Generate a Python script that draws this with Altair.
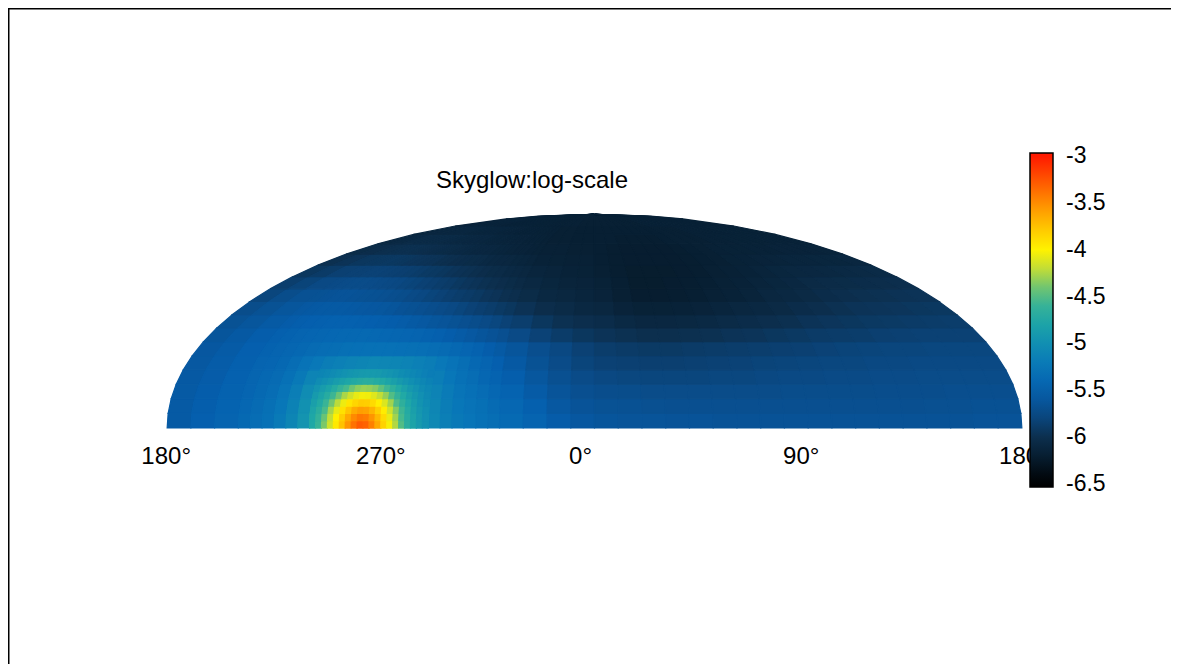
import altair as alt

# ---------------- data ----------------
# longitude edges of the sky cells (azimuth = lon mod 360; 0 deg at centre, 90 deg to the right)
lon_edges = [-180, -170, -160, -150,
             -145, -140, -135, -130, -125, -120, -115, -110, -105, -100, -95, -90, -85, -80, -75, -70,
             -65, -60, -55, -50, -45, -40,
             -30, -20, -10, 0, 10, 20, 30, 40, 50, 60, 70, 80, 90, 100, 110, 120, 130, 140, 150, 160, 170, 180]
# elevation edges (5 degree bands)
el_edges = [0, 5, 10, 15, 20, 25, 30, 35, 40, 45, 50, 55, 60, 65, 70, 75, 80, 85, 90]

# log10 skyglow, one row per elevation band (bottom to top), columns left to right
sky_rows = [
    [-5.56, -5.50, -5.45,
     -5.39, -5.35, -5.30, -5.21, -5.10, -4.95, -4.60, -4.20, -3.80, -3.45, -3.30, -3.50, -3.85, -4.30, -4.70, -4.95, -5.07, -5.16, -5.22, -5.26, -5.30, -5.34,
     -5.38, -5.45, -5.53, -5.59, -5.62, -5.63, -5.63, -5.64, -5.64, -5.65, -5.65, -5.65, -5.65, -5.65, -5.65, -5.65, -5.65, -5.65, -5.65, -5.65, -5.64, -5.64],
    [-5.56, -5.51, -5.46,
     -5.41, -5.37, -5.32, -5.24, -5.13, -4.98, -4.70, -4.35, -4.00, -3.75, -3.65, -3.75, -4.05, -4.45, -4.80, -4.98, -5.09, -5.18, -5.24, -5.28, -5.32, -5.37,
     -5.41, -5.49, -5.58, -5.64, -5.66, -5.67, -5.68, -5.69, -5.69, -5.69, -5.69, -5.69, -5.69, -5.69, -5.69, -5.69, -5.69, -5.69, -5.68, -5.68, -5.67, -5.67],
    [-5.56, -5.52, -5.47,
     -5.43, -5.39, -5.35, -5.27, -5.17, -5.03, -4.85, -4.60, -4.35, -4.15, -4.10, -4.20, -4.40, -4.65, -4.90, -5.03, -5.12, -5.20, -5.27, -5.31, -5.36, -5.41,
     -5.46, -5.55, -5.63, -5.69, -5.71, -5.72, -5.73, -5.73, -5.73, -5.73, -5.73, -5.73, -5.72, -5.72, -5.72, -5.72, -5.71, -5.71, -5.71, -5.70, -5.70, -5.70],
    [-5.57, -5.53, -5.48,
     -5.44, -5.40, -5.37, -5.30, -5.22, -5.11, -5.00, -4.90, -4.80, -4.75, -4.72, -4.75, -4.80, -4.90, -5.00, -5.10, -5.17, -5.24, -5.30, -5.35, -5.41, -5.46,
     -5.51, -5.60, -5.68, -5.74, -5.77, -5.78, -5.79, -5.79, -5.79, -5.78, -5.78, -5.77, -5.76, -5.76, -5.75, -5.75, -5.74, -5.74, -5.73, -5.73, -5.73, -5.73],
    [-5.58, -5.54, -5.49,
     -5.45, -5.43, -5.40, -5.35, -5.28, -5.23, -5.18, -5.15, -5.12, -5.10, -5.08, -5.09, -5.10, -5.12, -5.15, -5.18, -5.23, -5.28, -5.34, -5.40, -5.45, -5.50,
     -5.57, -5.66, -5.74, -5.80, -5.83, -5.84, -5.85, -5.85, -5.84, -5.83, -5.82, -5.81, -5.80, -5.79, -5.78, -5.78, -5.77, -5.77, -5.76, -5.76, -5.76, -5.76],
    [-5.59, -5.55, -5.50,
     -5.47, -5.45, -5.42, -5.40, -5.37, -5.35, -5.34, -5.32, -5.31, -5.30, -5.30, -5.30, -5.31, -5.32, -5.33, -5.35, -5.37, -5.40, -5.43, -5.47, -5.52, -5.56,
     -5.62, -5.70, -5.77, -5.83, -5.87, -5.89, -5.90, -5.90, -5.89, -5.88, -5.87, -5.86, -5.85, -5.84, -5.82, -5.81, -5.80, -5.79, -5.79, -5.78, -5.78, -5.78],
    [-5.62, -5.57, -5.52,
     -5.49, -5.47, -5.45, -5.43, -5.42, -5.41, -5.40, -5.40, -5.39, -5.40, -5.41, -5.42, -5.43, -5.45, -5.47, -5.49, -5.52, -5.55, -5.58, -5.62, -5.65, -5.69,
     -5.75, -5.82, -5.88, -5.93, -5.96, -5.98, -6.00, -6.00, -5.99, -5.98, -5.96, -5.95, -5.93, -5.91, -5.89, -5.88, -5.87, -5.85, -5.84, -5.83, -5.83, -5.83],
    [-5.66, -5.61, -5.56,
     -5.53, -5.51, -5.50, -5.49, -5.48, -5.48, -5.48, -5.49, -5.50, -5.51, -5.52, -5.54, -5.56, -5.58, -5.61, -5.63, -5.66, -5.69, -5.72, -5.75, -5.78, -5.82,
     -5.86, -5.93, -5.98, -6.01, -6.03, -6.07, -6.09, -6.09, -6.08, -6.07, -6.05, -6.03, -6.01, -5.99, -5.96, -5.94, -5.93, -5.91, -5.90, -5.89, -5.88, -5.87],
    [-5.72, -5.66, -5.61,
     -5.58, -5.57, -5.56, -5.56, -5.56, -5.57, -5.58, -5.59, -5.60, -5.62, -5.65, -5.67, -5.69, -5.71, -5.74, -5.76, -5.79, -5.82, -5.85, -5.87, -5.90, -5.93,
     -5.97, -6.02, -6.05, -6.08, -6.10, -6.14, -6.16, -6.16, -6.15, -6.14, -6.12, -6.10, -6.08, -6.06, -6.03, -6.01, -5.98, -5.96, -5.95, -5.94, -5.93, -5.92],
    [-5.79, -5.72, -5.67,
     -5.66, -5.65, -5.64, -5.64, -5.65, -5.66, -5.67, -5.68, -5.70, -5.72, -5.75, -5.77, -5.80, -5.82, -5.85, -5.87, -5.89, -5.91, -5.94, -5.96, -5.99, -6.01,
     -6.04, -6.08, -6.10, -6.12, -6.14, -6.18, -6.21, -6.21, -6.20, -6.19, -6.17, -6.15, -6.13, -6.10, -6.08, -6.06, -6.03, -6.01, -5.99, -5.98, -5.97, -5.96],
    [-5.86, -5.81, -5.76,
     -5.75, -5.74, -5.73, -5.73, -5.74, -5.75, -5.76, -5.77, -5.79, -5.81, -5.83, -5.85, -5.87, -5.89, -5.92, -5.94, -5.96, -5.98, -6.00, -6.02, -6.04, -6.06,
     -6.08, -6.11, -6.13, -6.14, -6.16, -6.19, -6.22, -6.22, -6.21, -6.20, -6.19, -6.17, -6.15, -6.13, -6.11, -6.09, -6.06, -6.05, -6.04, -6.03, -6.02, -6.01],
    [-5.93, -5.89, -5.84,
     -5.83, -5.83, -5.82, -5.82, -5.83, -5.84, -5.85, -5.86, -5.88, -5.90, -5.91, -5.93, -5.95, -5.97, -5.98, -6.00, -6.02, -6.04, -6.05, -6.07, -6.08, -6.10,
     -6.12, -6.13, -6.15, -6.16, -6.18, -6.20, -6.22, -6.22, -6.22, -6.21, -6.20, -6.18, -6.17, -6.15, -6.13, -6.11, -6.10, -6.09, -6.08, -6.07, -6.06, -6.05],
    [-5.99, -5.96, -5.93,
     -5.92, -5.92, -5.91, -5.92, -5.93, -5.94, -5.95, -5.96, -5.97, -5.99, -6.00, -6.02, -6.03, -6.04, -6.05, -6.07, -6.08, -6.09, -6.10, -6.11, -6.12, -6.13,
     -6.15, -6.16, -6.17, -6.17, -6.19, -6.20, -6.21, -6.21, -6.21, -6.21, -6.20, -6.19, -6.18, -6.16, -6.15, -6.14, -6.13, -6.12, -6.12, -6.11, -6.11, -6.10],
    [-6.04, -6.02, -6.00,
     -5.99, -5.99, -5.99, -6.00, -6.01, -6.02, -6.03, -6.04, -6.05, -6.06, -6.07, -6.08, -6.09, -6.09, -6.10, -6.11, -6.12, -6.13, -6.14, -6.14, -6.15, -6.16,
     -6.17, -6.17, -6.18, -6.18, -6.19, -6.20, -6.21, -6.21, -6.21, -6.21, -6.20, -6.19, -6.18, -6.17, -6.16, -6.16, -6.15, -6.15, -6.14, -6.14, -6.14, -6.13],
    [-6.08, -6.07, -6.05,
     -6.05, -6.05, -6.05, -6.05, -6.06, -6.07, -6.08, -6.08, -6.09, -6.09, -6.10, -6.11, -6.12, -6.12, -6.13, -6.13, -6.14, -6.14, -6.15, -6.15, -6.16, -6.17,
     -6.18, -6.18, -6.19, -6.19, -6.19, -6.19, -6.20, -6.20, -6.20, -6.20, -6.19, -6.18, -6.18, -6.18, -6.17, -6.17, -6.16, -6.16, -6.16, -6.15, -6.15, -6.15],
    [-6.11, -6.10, -6.10,
     -6.10, -6.10, -6.10, -6.10, -6.11, -6.11, -6.12, -6.12, -6.12, -6.12, -6.13, -6.13, -6.14, -6.14, -6.15, -6.15, -6.15, -6.15, -6.16, -6.16, -6.17, -6.17,
     -6.18, -6.18, -6.19, -6.19, -6.19, -6.19, -6.19, -6.19, -6.19, -6.19, -6.19, -6.18, -6.18, -6.18, -6.17, -6.17, -6.17, -6.17, -6.16, -6.16, -6.16, -6.16],
    [-6.14, -6.14, -6.13,
     -6.13, -6.13, -6.13, -6.13, -6.14, -6.14, -6.15, -6.15, -6.15, -6.15, -6.15, -6.15, -6.15, -6.15, -6.16, -6.16, -6.16, -6.16, -6.17, -6.17, -6.17, -6.17,
     -6.17, -6.17, -6.18, -6.18, -6.18, -6.18, -6.18, -6.18, -6.18, -6.18, -6.18, -6.17, -6.17, -6.17, -6.17, -6.17, -6.17, -6.17, -6.17, -6.17, -6.17, -6.17],
    [-6.15, -6.15, -6.15,
     -6.15, -6.15, -6.15, -6.15, -6.15, -6.15, -6.16, -6.16, -6.16, -6.16, -6.16, -6.16, -6.16, -6.16, -6.16, -6.16, -6.16, -6.16, -6.17, -6.17, -6.17, -6.17,
     -6.17, -6.17, -6.17, -6.17, -6.17, -6.17, -6.17, -6.17, -6.17, -6.17, -6.17, -6.17, -6.17, -6.17, -6.17, -6.17, -6.17, -6.17, -6.17, -6.17, -6.17, -6.17],
]

# finer cells around the bright city glow (azimuth 240..290, elevation 0..20)
spot_lon_edges = [-120.0, -117.5, -115.0, -112.5, -110.0, -107.5, -105.0, -102.5, -100.0, -97.5, -95.0,
                  -92.5, -90.0, -87.5, -85.0, -82.5, -80.0, -77.5, -75.0, -72.5, -70.0]
spot_el_edges = [0, 2.5, 5, 7.5, 10, 12.5, 15, 17.5, 20]
spot_rows = [
    [-4.75, -4.59, -4.38, -4.16, -3.95, -3.75, -3.55, -3.39, -3.29, -3.32, -3.45, -3.63, -3.83, -4.03, -4.25, -4.47, -4.67, -4.80, -4.90, -4.98],
    [-4.76, -4.62, -4.42, -4.20, -3.99, -3.81, -3.63, -3.49, -3.41, -3.43, -3.54, -3.70, -3.88, -4.07, -4.29, -4.50, -4.69, -4.81, -4.91, -4.99],
    [-4.79, -4.67, -4.49, -4.28, -4.08, -3.91, -3.76, -3.64, -3.58, -3.60, -3.68, -3.82, -3.97, -4.16, -4.36, -4.56, -4.72, -4.84, -4.93, -5.00],
    [-4.84, -4.73, -4.58, -4.40, -4.22, -4.06, -3.93, -3.85, -3.80, -3.81, -3.88, -3.98, -4.12, -4.29, -4.48, -4.65, -4.77, -4.87, -4.96, -5.03],
    [-4.89, -4.80, -4.70, -4.56, -4.41, -4.27, -4.16, -4.08, -4.04, -4.05, -4.11, -4.20, -4.32, -4.47, -4.62, -4.74, -4.84, -4.92, -4.99, -5.06],
    [-4.95, -4.87, -4.80, -4.71, -4.61, -4.50, -4.41, -4.34, -4.31, -4.32, -4.36, -4.44, -4.54, -4.65, -4.74, -4.83, -4.91, -4.97, -5.04, -5.08],
    [-5.03, -4.98, -4.93, -4.87, -4.82, -4.77, -4.73, -4.70, -4.68, -4.68, -4.71, -4.74, -4.79, -4.84, -4.90, -4.95, -5.00, -5.05, -5.09, -5.13],
    [-5.10, -5.07, -5.04, -5.00, -4.97, -4.94, -4.92, -4.90, -4.89, -4.89, -4.90, -4.93, -4.95, -4.98, -5.02, -5.05, -5.08, -5.11, -5.15, -5.18],
]

# colour bar (the bar runs a hair past -6.5 and -3, as in the picture)
color_stops = [-6.532, -6.5, -6.25, -6.0, -5.75, -5.5, -5.25, -5.0, -4.75, -4.5, -4.25, -4.0, -3.75, -3.5, -3.25,
               -3.0, -2.968]
color_hex = ['#000000', '#000000', '#061a2a', '#0c2f4e', '#0a4a86', '#055fae', '#0876b8', '#118fb2', '#1fa8a6',
             '#45b98e', '#b3d843', '#fff200', '#ffc300', '#ff8c00', '#ff5200', '#ff1a00', '#ff1a00']
cbar_ticks = [-6.5, -6, -5.5, -5, -4.5, -4, -3.5, -3]

# meridian labels
meridian_lon = [-180, -90, 0, 90, 180]
meridian_text = ['180°', '270°', '0°', '90°', '180°']
meridian_dx = [-1, 0, -14, -7, 2]

title_text = 'Skyglow:log-scale'
FONT = 'Liberation Sans'


# ---------------- build GeoJSON cells ----------------
def cell_ring(lon0, lon1, lat0, lat1):
    lon0 = max(lon0, -179.99)
    lon1 = min(lon1, 179.99)
    lat1 = min(lat1, 89.99)
    n = max(1, int(round(lon1 - lon0)))
    top = [[round(lon0 + (lon1 - lon0) * i / n, 3), lat1] for i in range(n + 1)]
    bottom = [[round(lon1 - (lon1 - lon0) * i / n, 3), lat0] for i in range(n + 1)]
    return [[round(lon0, 3), lat0]] + top + bottom


features = []
for j, row in enumerate(sky_rows):
    for i, v in enumerate(row[:len(lon_edges) - 1]):
        features.append({
            'type': 'Feature',
            'geometry': {'type': 'Polygon',
                         'coordinates': [cell_ring(lon_edges[i], lon_edges[i + 1], el_edges[j], el_edges[j + 1])]},
            'properties': {'v': v},
        })
for j, row in enumerate(spot_rows):
    for i, v in enumerate(row):
        features.append({
            'type': 'Feature',
            'geometry': {'type': 'Polygon',
                         'coordinates': [cell_ring(spot_lon_edges[i], spot_lon_edges[i + 1],
                                                   spot_el_edges[j], spot_el_edges[j + 1])]},
            'properties': {'v': v},
        })

# Mollweide (supported by the Vega runtime; passed as an expression)
proj = dict(type={'expr': "'mollweide'"}, scale=151.1, translate=[586.5, 420])
color_scale = alt.Scale(type='linear', domain=color_stops, range=color_hex, clamp=True, interpolate='rgb')
# cell outlines use the same colours on a scale of their own (so that it adds no legend)
edge_scale = alt.Scale(type='linear', domain=color_stops[1:-1], range=color_hex[1:-1], clamp=True,
                       interpolate='rgb')

sky = alt.Chart(alt.Data(values=features)).mark_geoshape(strokeWidth=1.2).transform_calculate(
    edge='datum.properties.v'
).encode(
    color=alt.Color(
        'properties.v:Q', scale=color_scale,
        legend=alt.Legend(
            type='gradient', orient='none', legendX=1022, legendY=145, direction='vertical', title=None,
            gradientLength=334, gradientThickness=23, gradientStrokeColor='black',
            gradientStrokeWidth=1.5, values=cbar_ticks, labelExpr="'' + datum.value",
            labelFont=FONT, labelFontSize=23, labelColor='black', labelOffset=13,
            labelBaseline='middle', labelOverlap=False, padding=0,
        ),
    ),
    stroke=alt.Stroke('edge:Q', scale=edge_scale, legend=None),
).project(**proj)

layers = [sky]
for lon, txt, dx in zip(meridian_lon, meridian_text, meridian_dx):
    layers.append(
        alt.Chart(alt.Data(values=[{'lon': max(min(lon, 179.99), -179.99), 'lat': 0, 'label': txt}]))
        .mark_text(dx=dx, dy=29, fontSize=24, font=FONT, color='black', align='center', baseline='middle')
        .encode(longitude='lon:Q', latitude='lat:Q', text='label:N')
        .project(**proj)
    )

title = alt.Chart(alt.Data(values=[{'t': title_text}])).mark_text(
    fontSize=24, font=FONT, color='black', align='center', baseline='middle'
).encode(x=alt.value(524), y=alt.value(173), text='t:N')

frame_top = alt.Chart(alt.Data(values=[{'k': 1}])).mark_rule(color='black', strokeWidth=1.5).encode(
    x=alt.value(0), x2=alt.value(1200), y=alt.value(0.75))
frame_left = alt.Chart(alt.Data(values=[{'k': 1}])).mark_rule(color='black', strokeWidth=1.5).encode(
    x=alt.value(0.75), y=alt.value(0), y2=alt.value(700))

layers += [title, frame_top, frame_left]

chart = alt.layer(*layers).properties(
    width=1163, height=656, padding=0, autosize=alt.AutoSizeParams(type='none')
).configure_view(strokeWidth=0, stroke='transparent')

chart.save('out.html', embed_options={'renderer': 'svg', 'actions': False})
